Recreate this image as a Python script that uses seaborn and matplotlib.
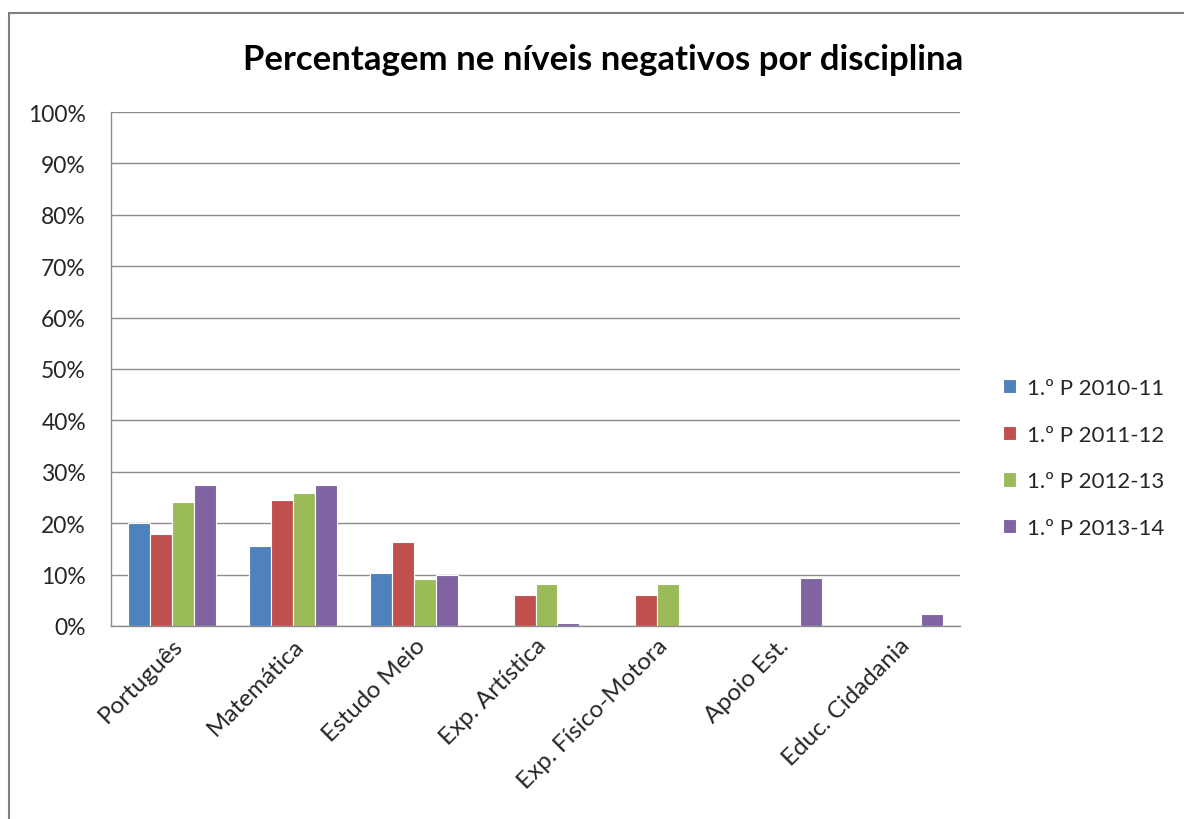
import numpy as np
import pandas as pd
import seaborn as sns
from matplotlib import pyplot as plt
from matplotlib.patches import Rectangle
from matplotlib.ticker import PercentFormatter

disciplinas = ["Português", "Matemática", "Estudo Meio", "Exp. Artística",
               "Exp. Físico-Motora", "Apoio Est.", "Educ. Cidadania"]
periodos = ["1.º P 2010-11", "1.º P 2011-12", "1.º P 2012-13", "1.º P 2013-14"]
p2010 = [20.0, 15.6, 10.3, np.nan, np.nan, np.nan, np.nan]
p2011 = [17.9, 24.6, 16.3, 6.1, 6.1, np.nan, np.nan]
p2012 = [24.2, 25.9, 9.1, 8.1, 8.1, np.nan, np.nan]
p2013 = [27.5, 27.5, 10.0, 0.6, np.nan, 9.3, 2.3]
cores = ["#4F81BD", "#C0504D", "#9BBB59", "#8064A2"]


def main():
    df = pd.DataFrame({
        "disciplina": disciplinas * 4,
        "periodo": np.repeat(periodos, len(disciplinas)),
        "valor": p2010 + p2011 + p2012 + p2013,
    })

    sns.set_theme(style="white")
    plt.rcParams["font.family"] = ["Lato", "DejaVu Sans"]

    fig = plt.figure(figsize=(11.84, 8.2), dpi=100)
    fig.patches.append(Rectangle((9 / 1184, -0.1), 1.2, 1.1 - 14 / 820,
                                 transform=fig.transFigure, fill=False,
                                 edgecolor="#7f7f7f", linewidth=1.5))
    ax = fig.add_axes([111 / 1184, 1 - 627 / 820, 849 / 1184, 514 / 820])

    sns.barplot(data=df, x="disciplina", y="valor", hue="periodo",
                order=disciplinas, hue_order=periodos, palette=cores,
                width=0.725, saturation=1, edgecolor="white", linewidth=0.8,
                errorbar=None, ax=ax)

    ax.set_ylim(0, 100)
    ax.set_yticks(range(0, 101, 10))
    ax.yaxis.set_major_formatter(PercentFormatter(decimals=0))
    ax.grid(axis="y", color="#8c8c8c", linewidth=1)
    ax.set_axisbelow(True)
    for s in ["top", "right"]:
        ax.spines[s].set_visible(False)
    for s in ["left", "bottom"]:
        ax.spines[s].set_color("#8c8c8c")
        ax.spines[s].set_linewidth(1)
    ax.set_xlabel("")
    ax.set_ylabel("")
    ax.tick_params(axis="y", labelsize=16.5, colors="#262626", pad=18, length=0)
    ax.tick_params(axis="x", labelsize=17.5, colors="#262626", pad=6, length=0)
    plt.setp(ax.get_xticklabels(), rotation=45, ha="right",
             rotation_mode="anchor")

    fig.text(603 / 1184, 1 - 60 / 820, "Percentagem ne níveis negativos por disciplina",
             ha="center", va="center", fontsize=25, fontweight="bold",
             color="black")

    handles, labels = ax.get_legend_handles_labels()
    ax.legend(handles, labels, loc="center left",
              bbox_to_anchor=(983 / 1184, 1 - 459 / 820),
              bbox_transform=fig.transFigure, frameon=False, fontsize=16,
              handlelength=0.6, handleheight=0.6, handletextpad=0.5,
              labelspacing=1.2, labelcolor="#262626")

    fig.savefig("out.png", dpi=100, facecolor="white")


if __name__ == "__main__":
    main()
